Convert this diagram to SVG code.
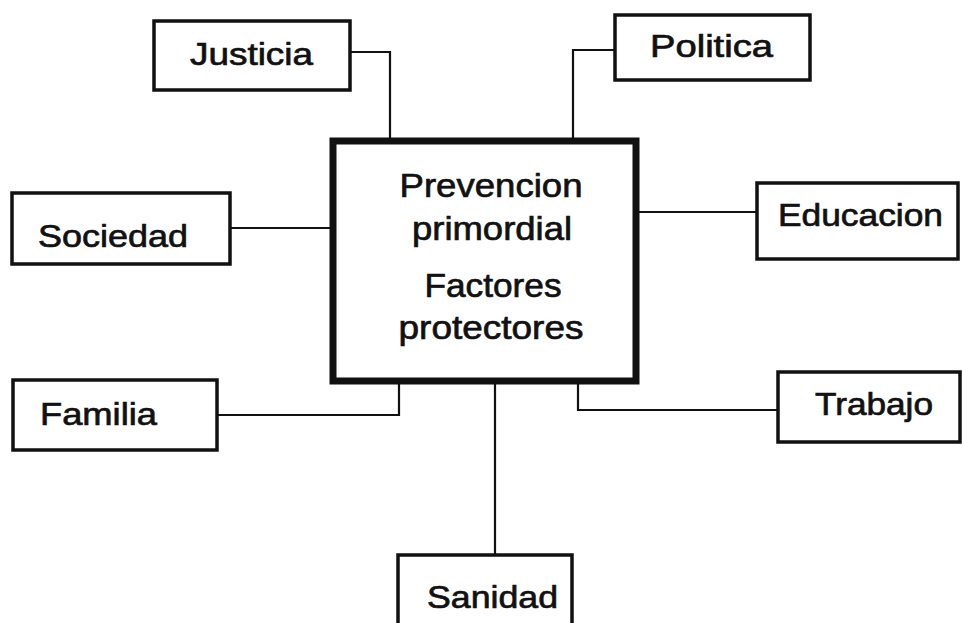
<svg xmlns="http://www.w3.org/2000/svg" width="962" height="623" viewBox="0 0 962 623">
<style>
.box{fill:#fff;stroke:#111;stroke-width:3.5}
.main{fill:#fff;stroke:#111;stroke-width:7}
.lbl{font-family:"Liberation Sans",Arial,sans-serif;font-size:32px;fill:#111;stroke:#111;stroke-width:0.7}
.big{font-family:"Liberation Sans",Arial,sans-serif;font-size:34px;fill:#111;stroke:#111;stroke-width:0.7;text-anchor:middle}
.conn{fill:none;stroke:#111;stroke-width:2.2}
</style>
<rect width="962" height="623" fill="#fff"/>
<g id="connectors">
<polyline class="conn" points="350,52 390,52 390,141"/>
<polyline class="conn" points="615,50 573,50 573,139"/>
<line class="conn" x1="230" y1="228" x2="330" y2="228"/>
<line class="conn" x1="637" y1="212" x2="757" y2="212"/>
<polyline class="conn" points="217,415 399,415 399,382"/>
<polyline class="conn" points="578,382 578,410 778,410"/>
<line class="conn" x1="495" y1="382" x2="495" y2="555"/>
</g>
<g id="center">
<rect class="main" x="333" y="141" width="303" height="240"/>
<text class="big" x="491" y="197" textLength="183" lengthAdjust="spacingAndGlyphs">Prevencion</text>
<text class="big" x="492" y="240" textLength="160" lengthAdjust="spacingAndGlyphs">primordial</text>
<text class="big" x="493" y="297" textLength="137" lengthAdjust="spacingAndGlyphs">Factores</text>
<text class="big" x="491" y="339" textLength="185" lengthAdjust="spacingAndGlyphs">protectores</text>
</g>
<g id="justicia">
<rect class="box" x="154" y="21" width="196" height="69"/>
<text class="lbl" x="190" y="65" textLength="123" lengthAdjust="spacingAndGlyphs">Justicia</text>
</g>
<g id="politica">
<rect class="box" x="615" y="15" width="195" height="65"/>
<text class="lbl" x="650" y="57" textLength="123" lengthAdjust="spacingAndGlyphs">Politica</text>
</g>
<g id="sociedad">
<rect class="box" x="12" y="193" width="218" height="71"/>
<text class="lbl" x="38" y="247" textLength="150" lengthAdjust="spacingAndGlyphs">Sociedad</text>
</g>
<g id="educacion">
<rect class="box" x="757" y="183" width="201" height="76"/>
<text class="lbl" x="778" y="226" textLength="165" lengthAdjust="spacingAndGlyphs">Educacion</text>
</g>
<g id="familia">
<rect class="box" x="13" y="380" width="204" height="70"/>
<text class="lbl" x="40" y="425" textLength="117" lengthAdjust="spacingAndGlyphs">Familia</text>
</g>
<g id="trabajo">
<rect class="box" x="778" y="372" width="182" height="70"/>
<text class="lbl" x="815" y="415" textLength="118" lengthAdjust="spacingAndGlyphs">Trabajo</text>
</g>
<g id="sanidad">
<rect class="box" x="398" y="555" width="174" height="80"/>
<text class="lbl" x="427" y="608" textLength="131" lengthAdjust="spacingAndGlyphs">Sanidad</text>
</g>
</svg>
